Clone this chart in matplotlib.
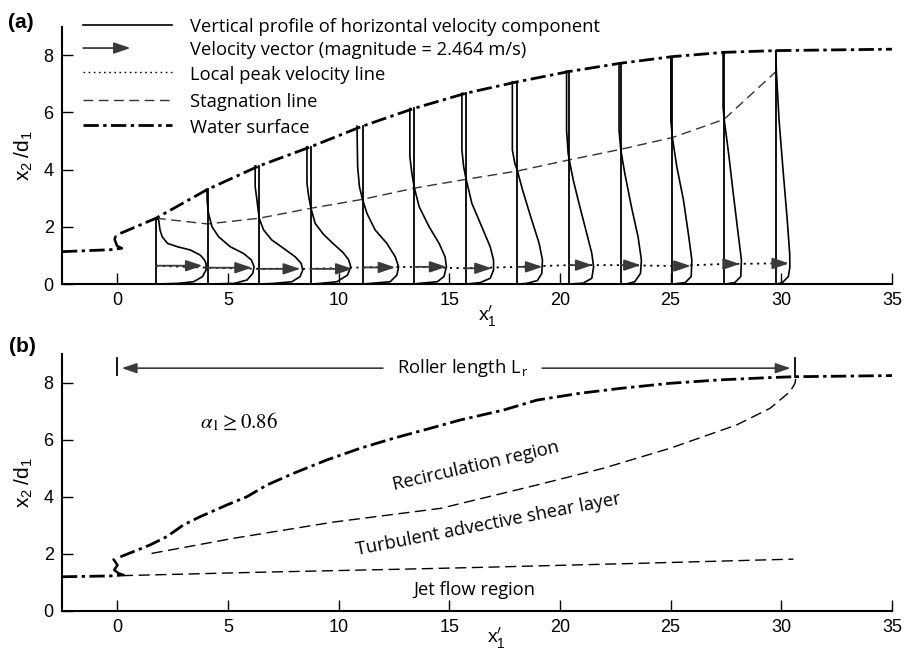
import numpy as np
import matplotlib
matplotlib.use("Agg")
import matplotlib.pyplot as plt

plt.rcParams['font.family'] = ['Liberation Sans', 'DejaVu Sans']
plt.rcParams['mathtext.fontset'] = 'custom'
plt.rcParams['mathtext.rm'] = 'Liberation Sans'
plt.rcParams['mathtext.it'] = 'Liberation Sans'
plt.rcParams['mathtext.bf'] = 'Liberation Sans:bold'

LBL_FONT = ['Open Sans', 'DejaVu Sans']
LBL_SIZE = 13.2

# ---------------- data: panel (a) ----------------
stations = [1.75, 4.08, 6.41, 8.75, 11.08, 13.41, 15.75, 18.08, 20.42, 22.75, 25.08, 27.42, 29.75]
arrow_len = [2.1, 2.0, 1.85, 1.88, 1.48, 1.46, 1.17, 1.13, 1.05, 0.9, 0.83, 0.71, 0.6]
peak_y = [0.64, 0.57, 0.53, 0.53, 0.58, 0.6, 0.55, 0.6, 0.66, 0.66, 0.63, 0.7, 0.72]

ws_a_up_x = [-2.5, -0.3, 0.2]
ws_a_up_y = [1.13, 1.2, 1.25]
jump_a_x = [0.21, -0.01, -0.12, -0.08]
jump_a_y = [1.25, 1.33, 1.56, 1.66]
ws_a_x = [0.14, 1.75, 4.08, 6.41, 8.75, 11.08, 13.41, 15.75, 18.08, 20.42, 22.75, 25.08, 27.42, 29.75, 35.0]
ws_a_y = [1.77, 2.3, 3.31, 4.13, 4.8, 5.52, 6.14, 6.67, 7.07, 7.43, 7.72, 7.95, 8.1, 8.16, 8.21]

stag_a_x = [1.75, 4.08, 6.41, 8.75, 11.08, 13.41, 15.75, 18.08, 20.42, 22.75, 25.08, 27.42, 29.75]
stag_a_y = [2.3, 2.1, 2.3, 2.65, 2.96, 3.35, 3.66, 3.95, 4.34, 4.71, 5.12, 5.76, 7.42]

# velocity profiles (height y, horizontal velocity u in x'-units)
p01_y = [2.3, 2.24, 1.89, 1.65, 1.42, 1.30, 1.19, 1.01, 0.85, 0.72, 0.49, 0.26, 0.08, 0.02, 0.0]
p01_u = [0.0, 0.12, 0.18, 0.28, 0.52, 0.98, 1.55, 2.0, 2.18, 2.26, 2.26, 2.1, 1.7, 0.95, 0.05]
p02_y = [3.31, 2.9, 2.47, 2.0, 1.65, 1.30, 1.07, 0.84, 0.6, 0.37, 0.14, 0.02, 0.0]
p02_u = [-0.03, -0.02, 0.04, 0.2, 0.5, 1.03, 1.62, 1.98, 2.1, 2.04, 1.78, 1.2, 0.1]
p03_y = [4.13, 3.4, 2.94, 2.3, 1.89, 1.54, 1.25, 0.95, 0.72, 0.49, 0.26, 0.08, 0.02, 0.0]
p03_u = [-0.18, -0.18, -0.1, 0.0, 0.2, 0.57, 1.1, 1.63, 1.9, 1.97, 1.85, 1.48, 0.65, 0.05]
p04_y = [4.8, 3.52, 3.05, 2.65, 2.12, 1.75, 1.45, 1.1, 0.85, 0.6, 0.31, 0.08, 0.02, 0.0]
p04_u = [-0.18, -0.18, -0.1, 0.0, 0.19, 0.55, 0.95, 1.45, 1.7, 1.8, 1.65, 1.17, 0.4, 0.05]
p05_y = [5.52, 4.1, 3.4, 2.96, 2.47, 1.89, 1.42, 0.95, 0.6, 0.31, 0.08, 0.02, 0.0]
p05_u = [-0.25, -0.22, -0.14, 0.0, 0.2, 0.57, 1.1, 1.48, 1.63, 1.55, 1.25, 0.35, 0.02]
p06_y = [6.14, 4.45, 3.87, 3.4, 2.7, 2.0, 1.42, 0.95, 0.6, 0.26, 0.08, 0.02, 0.0]
p06_u = [-0.19, -0.19, -0.1, 0.0, 0.23, 0.68, 1.13, 1.4, 1.46, 1.35, 1.05, 0.2, 0.02]
p07_y = [6.67, 4.69, 4.1, 3.7, 2.82, 2.0, 1.3, 0.84, 0.49, 0.2, 0.05, 0.0]
p07_u = [-0.18, -0.18, -0.1, 0.0, 0.27, 0.72, 1.1, 1.25, 1.25, 1.1, 0.65, 0.05]
p08_y = [7.07, 4.69, 4.22, 3.95, 3.29, 2.35, 1.42, 0.84, 0.37, 0.12, 0.02, 0.0]
p08_u = [-0.23, -0.23, -0.12, 0.0, 0.23, 0.6, 0.98, 1.13, 1.1, 0.9, 0.4, 0.05]
p09_y = [7.45, 5.38, 4.57, 4.34, 3.64, 2.7, 1.77, 1.07, 0.6, 0.2, 0.03, 0.0]
p09_u = [-0.12, -0.12, -0.05, 0.0, 0.18, 0.48, 0.79, 1.02, 1.1, 1.02, 0.63, 0.05]
p10_y = [7.72, 5.38, 4.69, 3.87, 2.7, 1.65, 0.84, 0.37, 0.08, 0.01, 0.0]
p10_u = [-0.08, -0.08, 0.0, 0.18, 0.48, 0.78, 0.93, 0.89, 0.63, 0.3, 0.05]
p11_y = [7.95, 5.73, 5.12, 4.10, 2.94, 1.77, 0.84, 0.26, 0.05, 0.0]
p11_u = [-0.07, -0.07, 0.0, 0.2, 0.5, 0.72, 0.88, 0.85, 0.58, 0.05]
p12_y = [8.1, 6.2, 5.76, 4.57, 3.17, 1.77, 0.84, 0.26, 0.05, 0.0]
p12_u = [-0.05, -0.05, 0.0, 0.2, 0.41, 0.63, 0.78, 0.75, 0.48, 0.05]
p13_y = [8.16, 7.42, 5.73, 3.99, 2.24, 1.07, 0.6, 0.26, 0.05, 0.0]
p13_u = [0.0, 0.03, 0.15, 0.33, 0.52, 0.63, 0.64, 0.57, 0.3, 0.05]

profiles_y = [p01_y, p02_y, p03_y, p04_y, p05_y, p06_y, p07_y, p08_y, p09_y, p10_y, p11_y, p12_y, p13_y]
profiles_u = [p01_u, p02_u, p03_u, p04_u, p05_u, p06_u, p07_u, p08_u, p09_u, p10_u, p11_u, p12_u, p13_u]

legend_labels = ["Vertical profile of horizontal velocity component",
                 "Velocity vector (magnitude = 2.464 m/s)",
                 "Local peak velocity line",
                 "Stagnation line",
                 "Water surface"]

# ---------------- data: panel (b) ----------------
ws_b_up_x = [-2.5, -0.32, 0.2]
ws_b_up_y = [1.2, 1.23, 1.26]
jump_b_x = [0.29, 0.06, -0.14, 0.01, -0.17]
jump_b_y = [1.26, 1.32, 1.44, 1.61, 1.81]
ws_b_x = [0.14, 1.49, 2.24, 2.99, 3.75, 4.95, 5.86, 6.76, 7.96, 9.47, 10.98, 12.48, 14.14, 15.49,
          17.45, 18.96, 20.91, 22.72, 24.98, 27.24, 29.49, 30.62, 35.0]
ws_b_y = [1.9, 2.32, 2.61, 3.02, 3.31, 3.72, 4.01, 4.42, 4.83, 5.30, 5.71, 6.06, 6.41, 6.7,
          7.05, 7.40, 7.64, 7.81, 7.99, 8.11, 8.19, 8.22, 8.26]
stag_b_x = [1.55, 5.25, 9.77, 14.6, 18.96, 21.97, 24.98, 27.99, 29.49, 30.4, 30.62, 30.65]
stag_b_y = [2.02, 2.55, 3.12, 3.6, 4.42, 5.01, 5.71, 6.53, 7.11, 7.70, 7.99, 8.15]
jet_b_x = [0.21, 6.46, 12.48, 16.4, 23.47, 30.55]
jet_b_y = [1.24, 1.36, 1.46, 1.53, 1.67, 1.82]
roller_start = 0.0
roller_end = 30.62

xticks = [0, 5, 10, 15, 20, 25, 30, 35]
yticks = [0, 2, 4, 6, 8]

# ---------------- figure ----------------
fig = plt.figure(figsize=(9.18, 6.55), dpi=100)
ax_a = fig.add_axes([0.0675, 0.5664, 0.9041, 0.3930])
ax_b = fig.add_axes([0.0675, 0.0672, 0.9041, 0.3916])

WS_STYLE = dict(color='black', lw=2.0, linestyle=(0, (5.5, 1.6, 1.2, 1.6)), solid_capstyle='butt',
                dash_capstyle='butt')
AR_COLOR = '#3a3a3a'
ARROW = '-|>,head_length=0.5,head_width=0.17'
XLABEL = r"$\mathregular{x}^{\prime}_{\mathregular{1}}$"


def style_axes(ax):
    ax.set_xlim(-2.5, 35)
    ax.set_ylim(0, 9)
    for s in ['top', 'right']:
        ax.spines[s].set_visible(False)
    for s in ['left', 'bottom']:
        ax.spines[s].set_linewidth(1.5)
    ax.set_xticks(xticks)
    ax.set_yticks(yticks)
    ax.tick_params(direction='in', length=8, width=1.0, labelsize=13, pad=6)
    ax.set_ylabel(r"$x_2\;/d_1$", fontsize=15)
    ax.yaxis.set_label_coords(-0.033, 0.5)


style_axes(ax_a)
style_axes(ax_b)
ax_a.set_xlabel(XLABEL, fontsize=14, math_fontfamily='dejavusans')
ax_a.xaxis.set_label_coords(0.513, -0.075)
ax_b.set_xlabel(XLABEL, fontsize=14, math_fontfamily='dejavusans')
ax_b.xaxis.set_label_coords(0.524, -0.058)

# ---- panel (a) ----
ax_a.plot(ws_a_up_x, ws_a_up_y, **WS_STYLE)
ax_a.plot(jump_a_x, jump_a_y, color='black', lw=1.8, solid_capstyle='round')
ax_a.plot(ws_a_x, ws_a_y, **WS_STYLE)
ax_a.plot(stag_a_x, stag_a_y, color='#333333', lw=1.0, linestyle=(0, (7, 4)))

dot_x = list(stations) + [stations[-1] + arrow_len[-1]]
dot_y = list(peak_y) + [peak_y[-1]]
ax_a.plot(dot_x, dot_y, color='black', lw=1.3, linestyle=(0, (1.2, 2.5)))

for xs, py, pu, L, yp in zip(stations, profiles_y, profiles_u, arrow_len, peak_y):
    ax_a.plot([xs, xs], [0, py[0]], color='black', lw=1.3)
    ax_a.plot(np.asarray(pu) + xs, py, color='black', lw=1.2, solid_joinstyle='round')
    ax_a.annotate('', xy=(xs + L, yp), xytext=(xs, yp),
                  arrowprops=dict(arrowstyle=ARROW, color=AR_COLOR,
                                  lw=1.3, mutation_scale=20, shrinkA=0, shrinkB=0))

# legend (drawn manually, partly above the axes)
leg_y = [9.05, 8.25, 7.4, 6.45, 5.55]
lx0, lx1, ltext = -1.54, 2.48, 3.3
ax_a.plot([lx0, lx1], [leg_y[0]] * 2, color='black', lw=1.2, clip_on=False)
ax_a.annotate('', xy=(0.6, leg_y[1]), xytext=(lx0, leg_y[1]),
              arrowprops=dict(arrowstyle=ARROW, color=AR_COLOR,
                              lw=1.3, mutation_scale=20, shrinkA=0, shrinkB=0), annotation_clip=False)
ax_a.plot([lx0, lx1], [leg_y[2]] * 2, color='black', lw=1.0, linestyle=(0, (1.2, 2.5)), clip_on=False)
ax_a.plot([lx0, lx1], [leg_y[3]] * 2, color='#333333', lw=1.0, linestyle=(0, (7, 4)), clip_on=False)
ax_a.plot([lx0, lx1], [leg_y[4]] * 2, clip_on=False, **WS_STYLE)
for yy, lab in zip(leg_y, legend_labels):
    ax_a.text(ltext, yy - 0.08, lab, family=LBL_FONT, fontsize=LBL_SIZE, va='center', ha='left',
              clip_on=False)

fig.text(21 / 918, 1 - 22 / 655, '(a)', fontsize=15, fontweight='bold', ha='center', va='center')
fig.text(22 / 918, 1 - 347 / 655, '(b)', fontsize=15, fontweight='bold', ha='center', va='center')

# ---- panel (b) ----
ax_b.plot(jet_b_x, jet_b_y, color='black', lw=1.0, linestyle=(0, (8, 4)))
ax_b.plot(ws_b_up_x, ws_b_up_y, **WS_STYLE)
ax_b.plot(jump_b_x, jump_b_y, color='black', lw=1.8, solid_capstyle='round')
ax_b.plot(ws_b_x, ws_b_y, **WS_STYLE)
ax_b.plot(stag_b_x, stag_b_y, color='black', lw=1.0, linestyle=(0, (8, 4)))

ax_b.plot([roller_start, roller_start], [8.28, 8.87], color='black', lw=1.3)
ax_b.plot([roller_end, roller_end], [8.22, 8.87], color='black', lw=1.3)
ax_b.annotate('', xy=(roller_start + 0.2, 8.52), xytext=(12.0, 8.52),
              arrowprops=dict(arrowstyle=ARROW, color=AR_COLOR,
                              lw=1.2, mutation_scale=18, shrinkA=0, shrinkB=0))
ax_b.annotate('', xy=(roller_end - 0.2, 8.52), xytext=(19.2, 8.52),
              arrowprops=dict(arrowstyle=ARROW, color=AR_COLOR,
                              lw=1.2, mutation_scale=18, shrinkA=0, shrinkB=0))
ax_b.text(15.6, 8.52, r"Roller length L$_{\,\mathregular{r}}$", family=LBL_FONT, fontsize=LBL_SIZE,
          ha='center', va='center')
ax_b.text(5.5, 6.64, r"$\alpha_1 \geq 0.86$", math_fontfamily='stix', fontsize=15,
          ha='center', va='center')
ax_b.text(16.25, 4.92, "Recirculation region", family=LBL_FONT, fontsize=LBL_SIZE, rotation=13,
          rotation_mode='anchor', ha='center', va='baseline')
ax_b.text(16.8, 2.88, "Turbulent advective shear layer", family=LBL_FONT, fontsize=LBL_SIZE,
          rotation=11, rotation_mode='anchor', ha='center', va='baseline')
ax_b.text(16.13, 0.56, "Jet flow region", family=LBL_FONT, fontsize=LBL_SIZE,
          ha='center', va='baseline')

fig.savefig('out.png', dpi=100)
